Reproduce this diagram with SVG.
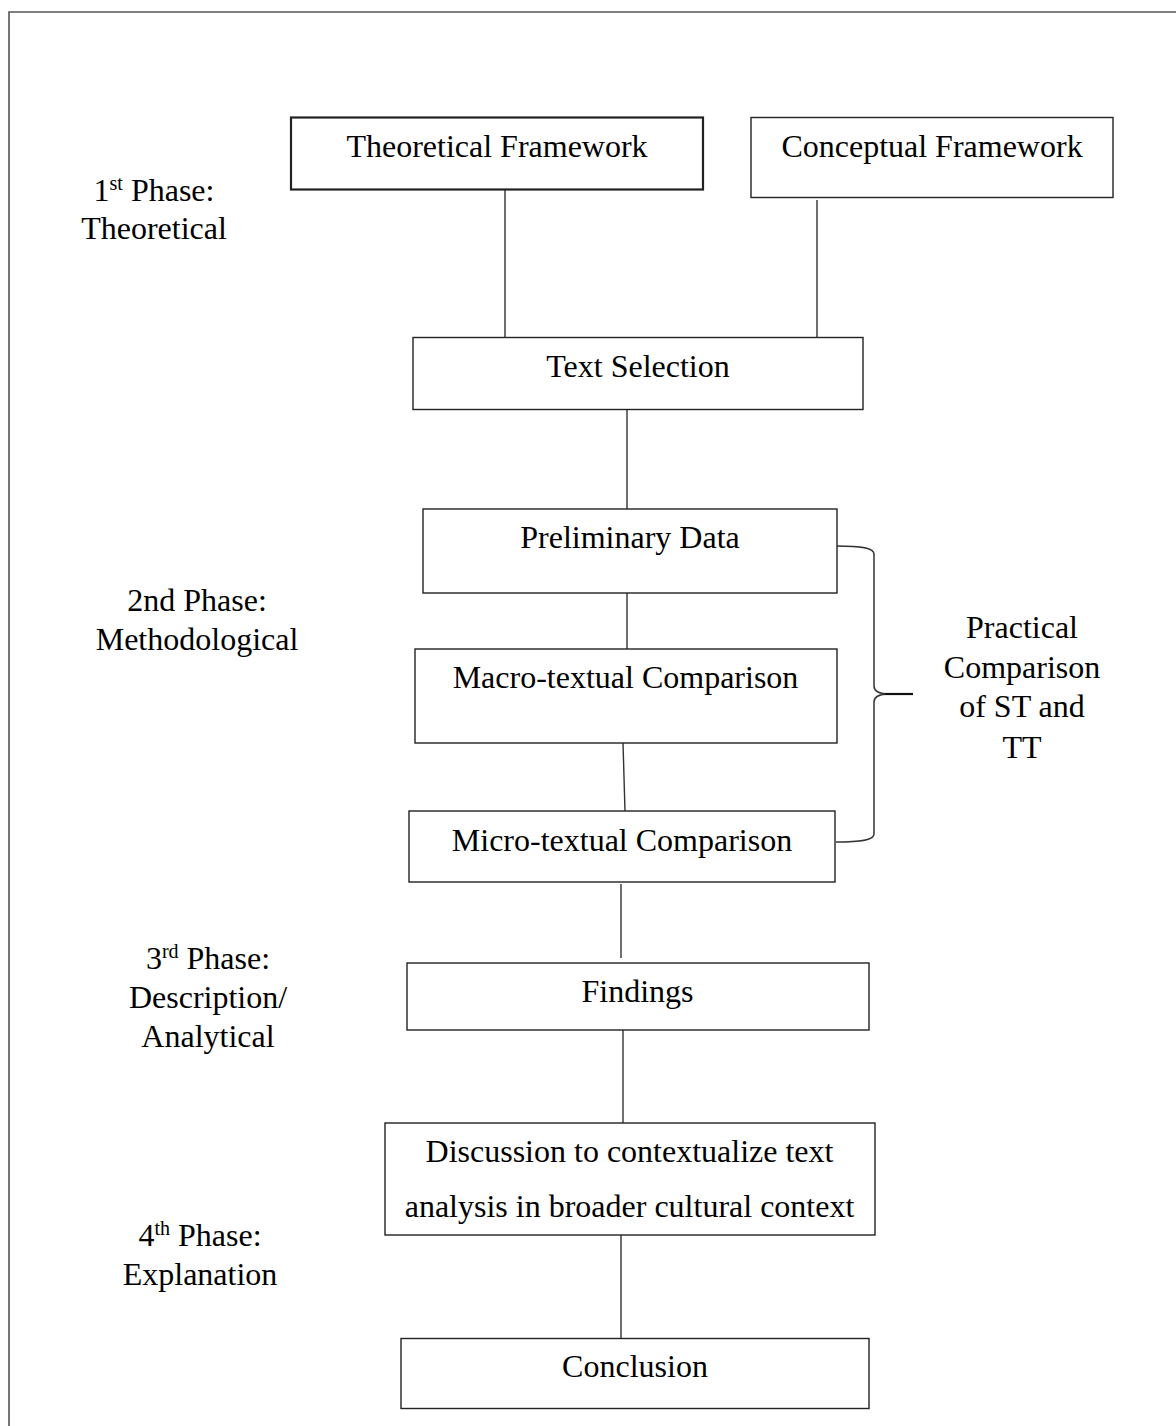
<svg xmlns="http://www.w3.org/2000/svg" width="1176" height="1426" viewBox="0 0 1176 1426">
<style>
  .bg { fill: #ffffff; }
  .frame { fill: none; stroke: #555555; stroke-width: 1.6; }
  .box { fill: #ffffff; stroke: #222222; stroke-width: 1.4; }
  .box-bold { fill: #ffffff; stroke: #222222; stroke-width: 2.2; }
  .edge { fill: none; stroke: #333333; stroke-width: 1.4; }
  .brace { fill: none; stroke: #333333; stroke-width: 1.5; }
  .tick { fill: none; stroke: #111111; stroke-width: 2.2; }
  text { font-family: "Liberation Serif", "Times New Roman", serif; font-size: 32px; fill: #000000; }
  .c { text-anchor: middle; }
  .sup { font-size: 20px; }
</style>
<rect class="bg" x="0" y="0" width="1176" height="1426"/>
<path class="frame" d="M9,1426 L9,12 L1176,12"/>

<g id="connectors">
  <line class="edge" x1="505" y1="190" x2="505" y2="337"/>
  <line class="edge" x1="817" y1="200" x2="817" y2="337"/>
  <line class="edge" x1="627" y1="409" x2="627" y2="509"/>
  <line class="edge" x1="627" y1="593" x2="627" y2="649"/>
  <line class="edge" x1="623" y1="743" x2="625" y2="811"/>
  <line class="edge" x1="621" y1="884" x2="621" y2="958"/>
  <line class="edge" x1="623" y1="1030" x2="623" y2="1123"/>
  <line class="edge" x1="621" y1="1235" x2="621" y2="1338"/>
  <path class="brace" d="M836.7,546 C862,546 874,548 874,554 L874,686 C874,691 878,693.5 887,694 C878,694.5 874,697 874,702 L874,834 C874,840 862,842 836,842"/>
  <line class="tick" x1="885" y1="694" x2="913" y2="694"/>
</g>

<g id="phase1">
  <text class="c" x="154" y="201">1<tspan class="sup" dy="-11">st</tspan><tspan dy="11"> Phase:</tspan></text>
  <text class="c" x="154" y="239">Theoretical</text>
</g>
<g id="phase2">
  <text class="c" x="197" y="611">2nd Phase:</text>
  <text class="c" x="197" y="650">Methodological</text>
</g>
<g id="phase3">
  <text class="c" x="208" y="969">3<tspan class="sup" dy="-11">rd</tspan><tspan dy="11"> Phase:</tspan></text>
  <text class="c" x="208" y="1008">Description/</text>
  <text class="c" x="208" y="1047">Analytical</text>
</g>
<g id="phase4">
  <text class="c" x="200" y="1246">4<tspan class="sup" dy="-11">th</tspan><tspan dy="11"> Phase:</tspan></text>
  <text class="c" x="200" y="1285">Explanation</text>
</g>

<g id="theoretical-framework">
  <rect class="box-bold" x="291" y="117.5" width="412" height="72"/>
  <text class="c" x="497" y="157">Theoretical Framework</text>
</g>
<g id="conceptual-framework">
  <rect class="box" x="751" y="117.5" width="362" height="80"/>
  <text class="c" x="932" y="157">Conceptual Framework</text>
</g>
<g id="text-selection">
  <rect class="box" x="413" y="337.5" width="450" height="72"/>
  <text class="c" x="638" y="377">Text Selection</text>
</g>
<g id="preliminary-data">
  <rect class="box" x="423" y="509" width="414" height="84"/>
  <text class="c" x="630" y="548">Preliminary Data</text>
</g>
<g id="macro-textual">
  <rect class="box" x="415" y="649" width="422" height="94"/>
  <text class="c" x="625.5" y="688">Macro-textual Comparison</text>
</g>
<g id="micro-textual">
  <rect class="box" x="409" y="811" width="426" height="71"/>
  <text class="c" x="622" y="851">Micro-textual Comparison</text>
</g>
<g id="findings">
  <rect class="box" x="407" y="963" width="462" height="67"/>
  <text class="c" x="637.5" y="1002">Findings</text>
</g>
<g id="discussion">
  <rect class="box" x="385" y="1123" width="490" height="112"/>
  <text class="c" x="629.5" y="1162">Discussion to contextualize text</text>
  <text class="c" x="629.5" y="1217">analysis in broader cultural context</text>
</g>
<g id="conclusion">
  <rect class="box" x="401" y="1338.5" width="468" height="70"/>
  <text class="c" x="635" y="1377">Conclusion</text>
</g>
<g id="practical-comparison">
  <text class="c" x="1022" y="638">Practical</text>
  <text class="c" x="1022" y="678">Comparison</text>
  <text class="c" x="1022" y="717">of ST and</text>
  <text class="c" x="1022" y="758">TT</text>
</g>
</svg>
